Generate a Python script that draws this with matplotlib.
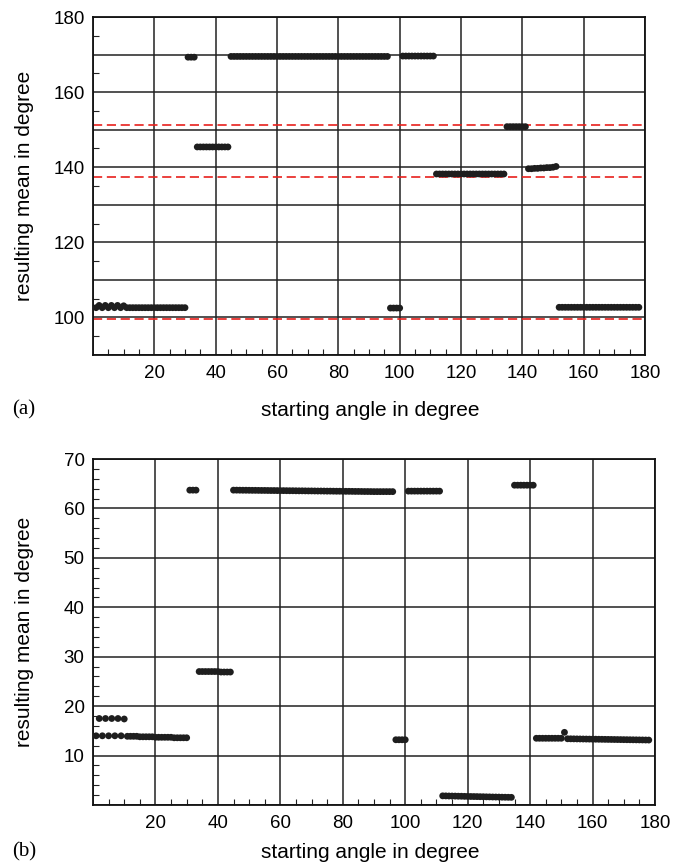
import numpy as np
import matplotlib
matplotlib.use("Agg")
import matplotlib.pyplot as plt
from matplotlib.ticker import MultipleLocator, FixedLocator, FuncFormatter

plt.rcParams['font.family'] = ['Liberation Sans', 'DejaVu Sans']

# starting angles 1..178
angles = np.arange(1, 179)

# (a) resulting mean
mean_a = [
    102.6, 103.2, 102.6, 103.2, 102.6, 103.2, 102.6, 103.2, 102.6, 103.1,
    102.6, 102.6, 102.6, 102.6, 102.6, 102.6, 102.6, 102.6, 102.6, 102.6,
    102.6, 102.6, 102.6, 102.6, 102.6, 102.6, 102.6, 102.6, 102.6, 102.6,
    169.3, 169.3, 169.3,
    145.4, 145.4, 145.4, 145.4, 145.4, 145.4, 145.4, 145.4, 145.4, 145.4, 145.4,
    169.5, 169.5, 169.5, 169.5, 169.5, 169.5, 169.5, 169.5, 169.5, 169.5,
    169.5, 169.5, 169.5, 169.5, 169.5, 169.5, 169.5, 169.5, 169.5, 169.5,
    169.5, 169.5, 169.5, 169.5, 169.5, 169.5, 169.5, 169.5, 169.5, 169.5,
    169.5, 169.5, 169.5, 169.5, 169.5, 169.5, 169.5, 169.5, 169.5, 169.5,
    169.5, 169.5, 169.5, 169.5, 169.5, 169.5, 169.5, 169.5, 169.5, 169.5,
    169.5, 169.5,
    102.5, 102.5, 102.5, 102.5,
    169.6, 169.6, 169.6, 169.6, 169.6, 169.6, 169.6, 169.6, 169.6, 169.6, 169.6,
    138.2, 138.2, 138.2, 138.2, 138.2, 138.2, 138.2, 138.2, 138.2, 138.2,
    138.2, 138.2, 138.2, 138.2, 138.2, 138.2, 138.2, 138.2, 138.2, 138.2,
    138.2, 138.2, 138.2,
    150.8, 150.8, 150.8, 150.8, 150.8, 150.8, 150.8,
    139.6, 139.6, 139.7, 139.7, 139.8, 139.8, 139.9, 139.9, 140.0, 140.2,
    102.7, 102.7, 102.7, 102.7, 102.7, 102.7, 102.7, 102.7, 102.7, 102.7,
    102.7, 102.7, 102.7, 102.7, 102.7, 102.7, 102.7, 102.7, 102.7, 102.7,
    102.7, 102.7, 102.7, 102.7, 102.7, 102.7, 102.7,
]
ref_lines_a = [151.2, 137.5, 99.5]

# (b) resulting mean
mean_b = [
    14.0, 17.5, 14.0, 17.5, 14.0, 17.5, 14.0, 17.5, 14.0, 17.4,
    13.9, 13.9, 13.9, 13.9, 13.8, 13.8, 13.8, 13.8, 13.8, 13.7,
    13.7, 13.7, 13.7, 13.7, 13.7, 13.6, 13.6, 13.6, 13.6, 13.6,
    63.7, 63.7, 63.7,
    27.0, 27.0, 27.0, 27.0, 27.0, 27.0, 27.0, 26.9, 26.9, 26.9, 26.9,
    63.70, 63.70, 63.69, 63.68, 63.68, 63.67, 63.66, 63.66, 63.65, 63.64,
    63.64, 63.63, 63.62, 63.62, 63.61, 63.60, 63.60, 63.59, 63.58, 63.58,
    63.57, 63.56, 63.56, 63.55, 63.54, 63.54, 63.53, 63.52, 63.52, 63.51,
    63.50, 63.50, 63.49, 63.48, 63.48, 63.47, 63.46, 63.46, 63.45, 63.44,
    63.44, 63.43, 63.42, 63.42, 63.41, 63.40, 63.40, 63.40, 63.40, 63.40,
    63.40, 63.40,
    13.2, 13.2, 13.2, 13.2,
    63.5, 63.5, 63.5, 63.5, 63.5, 63.5, 63.5, 63.5, 63.5, 63.5, 63.5,
    1.85, 1.84, 1.82, 1.81, 1.80, 1.78, 1.77, 1.75, 1.74, 1.72,
    1.71, 1.70, 1.68, 1.67, 1.65, 1.64, 1.62, 1.61, 1.60, 1.58,
    1.57, 1.56, 1.55,
    64.7, 64.7, 64.7, 64.7, 64.7, 64.7, 64.7,
    13.5, 13.5, 13.5, 13.5, 13.5, 13.5, 13.5, 13.5, 13.5,
    14.7,
    13.40, 13.39, 13.38, 13.37, 13.36, 13.35, 13.34, 13.33, 13.32, 13.31,
    13.30, 13.29, 13.28, 13.27, 13.26, 13.25, 13.24, 13.23, 13.22, 13.21,
    13.20, 13.19, 13.18, 13.17, 13.16, 13.15, 13.14,
]

W, H = 683, 866
fig = plt.figure(figsize=(W / 100, H / 100), dpi=100)
ax_a = fig.add_axes([93 / W, 1 - 355 / H, (645 - 93) / W, (355 - 17) / H])
ax_b = fig.add_axes([93 / W, 1 - 805 / H, (655 - 93) / W, (805 - 459) / H])

dot_color = '#1e1e1e'
tick_fs = 13.5
label_fs = 15


def style(ax, ylim, ymajor, ylabels, yminor):
    ax.set_xlim(0, 180)
    ax.set_ylim(*ylim)
    ax.xaxis.set_major_locator(MultipleLocator(20))
    ax.xaxis.set_minor_locator(MultipleLocator(5))
    ax.xaxis.set_major_formatter(FuncFormatter(lambda v, p: '' if v == 0 else '%d' % v))
    ax.yaxis.set_major_locator(FixedLocator(ymajor))
    ax.yaxis.set_minor_locator(MultipleLocator(yminor))
    ax.yaxis.set_major_formatter(FuncFormatter(lambda v, p: '%d' % v if v in ylabels else ''))
    ax.grid(True, which='major', color='#222222', linewidth=1.1)
    ax.tick_params(which='both', direction='in', labelsize=tick_fs, color='#222222')
    ax.tick_params(which='major', length=0, pad=7)
    ax.tick_params(which='minor', length=4, width=0.8)
    ax.tick_params(axis='y', which='major', pad=6)
    for s in ax.spines.values():
        s.set_linewidth(1.3)
        s.set_color('#111111')
    ax.set_axisbelow(True)


style(ax_a, (90, 180), list(range(90, 181, 10)), [100, 120, 140, 160, 180], 5)
style(ax_b, (0, 70), list(range(0, 71, 10)), [10, 20, 30, 40, 50, 60, 70], 2)

for y in ref_lines_a:
    ax_a.axhline(y, color='#e8201c', linestyle=(0, (5.5, 2.8)), linewidth=1.2, zorder=2)

ax_a.scatter(angles, mean_a, s=24, color=dot_color, edgecolors='none', zorder=3)
ax_b.scatter(angles, mean_b, s=24, color=dot_color, edgecolors='none', zorder=3)

for yc in (186, 632):
    fig.text(25 / W, 1 - yc / H, 'resulting mean in degree', rotation=90,
             ha='center', va='center', fontsize=label_fs)
for yc in (410, 852):
    fig.text(370 / W, 1 - yc / H, 'starting angle in degree',
             ha='center', va='center', fontsize=label_fs)
fig.text(12 / W, 1 - 410 / H, '(a)', ha='left', va='center', fontsize=label_fs,
         family=['Liberation Serif', 'DejaVu Serif'])
fig.text(12 / W, 1 - 852 / H, '(b)', ha='left', va='center', fontsize=label_fs,
         family=['Liberation Serif', 'DejaVu Serif'])

fig.savefig('out.png', dpi=100)
